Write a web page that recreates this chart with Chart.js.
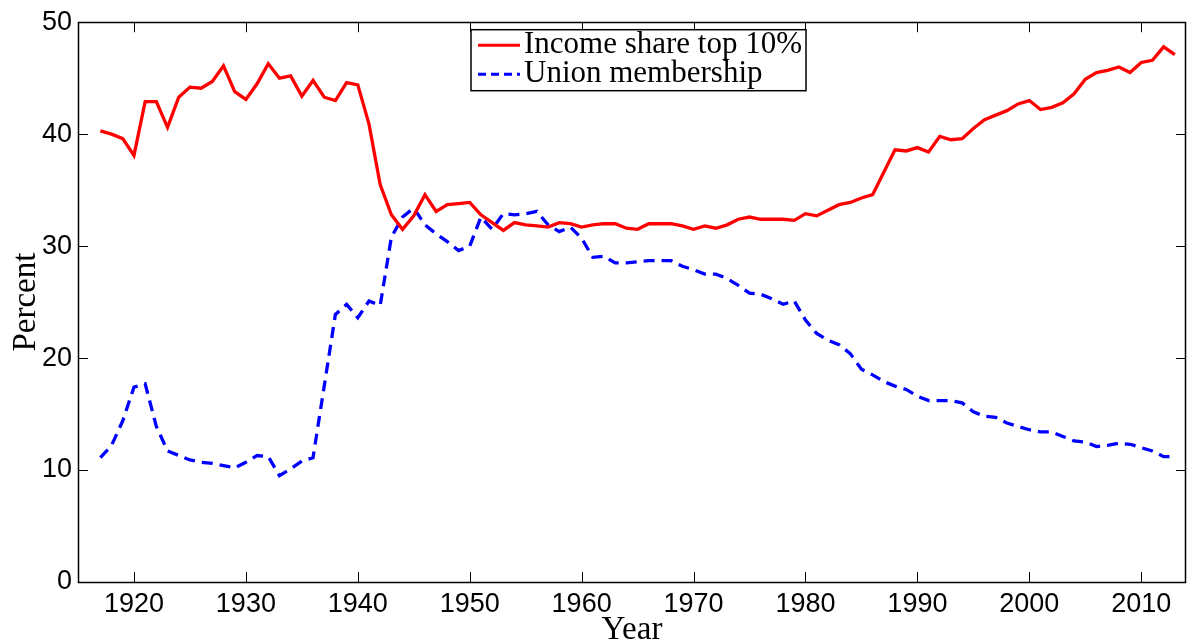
<!DOCTYPE html>
<html>
<head>
<meta charset="utf-8">
<script src="https://cdn.jsdelivr.net/npm/chart.js@4.4.1/dist/chart.umd.min.js"></script>
<style>
  html, body { margin: 0; padding: 0; background: #fff; }
  #wrap { width: 1187px; height: 643px; }
</style>
</head>
<body>
<div id="wrap"><canvas id="chart" width="1187" height="643"></canvas></div>
<script>
var years = [
  1917, 1918, 1919, 1920, 1921, 1922, 1923, 1924, 1925, 1926,
  1927, 1928, 1929, 1930, 1931, 1932, 1933, 1934, 1935, 1936,
  1937, 1938, 1939, 1940, 1941, 1942, 1943, 1944, 1945, 1946,
  1947, 1948, 1949, 1950, 1951, 1952, 1953, 1954, 1955, 1956,
  1957, 1958, 1959, 1960, 1961, 1962, 1963, 1964, 1965, 1966,
  1967, 1968, 1969, 1970, 1971, 1972, 1973, 1974, 1975, 1976,
  1977, 1978, 1979, 1980, 1981, 1982, 1983, 1984, 1985, 1986,
  1987, 1988, 1989, 1990, 1991, 1992, 1993, 1994, 1995, 1996,
  1997, 1998, 1999, 2000, 2001, 2002, 2003, 2004, 2005, 2006,
  2007, 2008, 2009, 2010, 2011, 2012, 2013
]

// income share of the top 10%
var incomeTop10 = [
  40.3, 40.0, 39.6, 38.1, 42.9, 42.9, 40.6, 43.3, 44.2, 44.1,
  44.7, 46.1, 43.8, 43.1, 44.5, 46.3, 45.0, 45.2, 43.4, 44.8,
  43.3, 43.0, 44.6, 44.4, 40.9, 35.5, 32.8, 31.5, 32.7, 34.6,
  33.1, 33.7, 33.8, 33.9, 32.8, 32.1, 31.4, 32.1, 31.9, 31.8,
  31.7, 32.1, 32.0, 31.7, 31.9, 32.0, 32.0, 31.6, 31.5, 32.0,
  32.0, 32.0, 31.8, 31.5, 31.8, 31.6, 31.9, 32.4, 32.6, 32.4,
  32.4, 32.4, 32.3, 32.9, 32.7, 33.2, 33.7, 33.9, 34.3, 34.6,
  36.6, 38.6, 38.5, 38.8, 38.4, 39.8, 39.5, 39.6, 40.5, 41.3,
  41.7, 42.1, 42.7, 43.0, 42.2, 42.4, 42.8, 43.6, 44.9, 45.5,
  45.7, 46.0, 45.5, 46.4, 46.6, 47.8, 47.1
]

var unionMembership = [
  11.1, 12.2, 14.4, 17.4, 17.7, 13.9, 11.7, 11.3, 10.9, 10.7,
  10.6, 10.4, 10.2, 10.7, 11.3, 11.2, 9.5, 10.1, 10.8, 11.1,
  17.5, 23.9, 24.8, 23.6, 25.1, 24.7, 30.8, 32.6, 33.4, 31.9,
  31.1, 30.4, 29.6, 30.0, 32.6, 31.5, 32.9, 32.8, 32.9, 33.1,
  31.9, 31.3, 31.7, 30.7, 29.0, 29.1, 28.5, 28.5, 28.6, 28.7,
  28.7, 28.7, 28.2, 27.9, 27.5, 27.5, 27.1, 26.5, 25.8, 25.7,
  25.3, 24.8, 25.1, 23.4, 22.2, 21.6, 21.2, 20.4, 19.0, 18.5,
  17.9, 17.5, 17.2, 16.6, 16.2, 16.2, 16.2, 16.0, 15.2, 14.8,
  14.7, 14.2, 13.9, 13.6, 13.4, 13.4, 13.0, 12.6, 12.5, 12.1,
  12.2, 12.4, 12.3, 12.0, 11.7, 11.2, 11.2
]

var xTicks = [1920, 1930, 1940, 1950, 1960, 1970, 1980, 1990, 2000, 2010]
var yTicks = [0, 10, 20, 30, 40, 50]
var seriesNames = ["Income share top 10%", "Union membership"]

var sansFont = "'Liberation Sans', Arial, Helvetica, sans-serif"
var serifFont = "'Liberation Serif', 'Times New Roman', serif"

function points(values) {
  return years.map(function (yr, i) { return { x: yr, y: values[i] } })
}

// MATLAB-like box: frame plus inward ticks on all four sides
var boxPlugin = {
  id: "box",
  afterDatasetsDraw: function (chart) {
    var ctx = chart.ctx
    var a = chart.chartArea
    var xs = chart.scales.x, ys = chart.scales.y
    var tick = 10

    ctx.save()
    ctx.strokeStyle = "#000"
    ctx.lineWidth = 1
    ctx.beginPath()
    xTicks.forEach(function (v) {
      var px = Math.round(xs.getPixelForValue(v)) + 0.5
      ctx.moveTo(px, a.bottom); ctx.lineTo(px, a.bottom - tick)
      ctx.moveTo(px, a.top); ctx.lineTo(px, a.top + tick)
    })
    yTicks.forEach(function (v) {
      var py = Math.round(ys.getPixelForValue(v)) + 0.5
      ctx.moveTo(a.left, py); ctx.lineTo(a.left + tick, py)
      ctx.moveTo(a.right, py); ctx.lineTo(a.right - tick, py)
    })
    ctx.stroke()

    ctx.lineWidth = 1.5
    ctx.strokeRect(Math.round(a.left) + 0.5, Math.round(a.top) + 0.5,
      Math.round(a.right - a.left) - 1, Math.round(a.bottom - a.top))

    // legend box
    var lx = a.left + 393, ly = a.top + 7.5, lw = 335, lh = 61
    ctx.fillStyle = "#fff"
    ctx.fillRect(lx, ly, lw, lh)
    ctx.lineWidth = 1.5
    ctx.strokeRect(lx, ly, lw, lh)

    ctx.font = "31px " + serifFont
    ctx.textBaseline = "alphabetic"
    ctx.textAlign = "left"
    chart.data.datasets.forEach(function (ds, i) {
      var rowY = ly + 15.5 + i * 29
      ctx.strokeStyle = ds.borderColor
      ctx.lineWidth = 3
      ctx.setLineDash(ds.borderDash ? [8, 5] : [])
      ctx.beginPath()
      ctx.moveTo(lx + 7, rowY)
      ctx.lineTo(lx + 49, rowY)
      ctx.stroke()
      ctx.setLineDash([])
      ctx.fillStyle = "#000"
      ctx.fillText(ds.label, lx + 53, rowY + 8)
    })
    ctx.restore()
  }
}

var ctx = document.getElementById("chart").getContext("2d")
new Chart(ctx, {
  type: "line",
  data: {
    datasets: [
      {
        label: seriesNames[0],
        data: points(incomeTop10),
        borderColor: "#ff0000",
        borderWidth: 3.3,
        pointRadius: 0,
        tension: 0,
        fill: false
      },
      {
        label: seriesNames[1],
        data: points(unionMembership),
        borderColor: "#0000ff",
        borderWidth: 3.3,
        borderDash: [11, 7],
        pointRadius: 0,
        tension: 0,
        fill: false
      }
    ]
  },
  options: {
    responsive: false,
    animation: false,
    events: [],
    layout: { padding: { top: 19, right: 1, left: 0, bottom: 0 } },
    plugins: {
      legend: { display: false },
      tooltip: { enabled: false }
    },
    scales: {
      x: {
        type: "linear",
        min: 1915,
        max: 2014,
        afterBuildTicks: function (scale) {
          scale.ticks = xTicks.map(function (v) { return { value: v } })
        },
        afterFit: function (scale) { scale.height = 61 },
        grid: { display: false, drawTicks: false },
        border: { display: false },
        ticks: {
          padding: 6,
          maxRotation: 0,
          color: "#000",
          font: { family: sansFont, size: 27 },
          callback: function (v) { return String(v) }
        },
        title: {
          display: true,
          text: "Year",
          color: "#000",
          font: { family: serifFont, size: 33, lineHeight: 0.75 },
          padding: 0
        }
      },
      y: {
        type: "linear",
        min: 0,
        max: 50,
        afterBuildTicks: function (scale) {
          scale.ticks = yTicks.map(function (v) { return { value: v } })
        },
        afterFit: function (scale) { scale.width = 78 },
        grid: { display: false, drawTicks: false },
        border: { display: false },
        ticks: {
          padding: 6,
          color: "#000",
          font: { family: sansFont, size: 27 }
        },
        title: {
          display: true,
          text: "Percent",
          color: "#000",
          font: { family: serifFont, size: 33, lineHeight: 1 },
          padding: { top: 10, bottom: 0 }
        }
      }
    }
  },
  plugins: [boxPlugin]
})
</script>
</body>
</html>
